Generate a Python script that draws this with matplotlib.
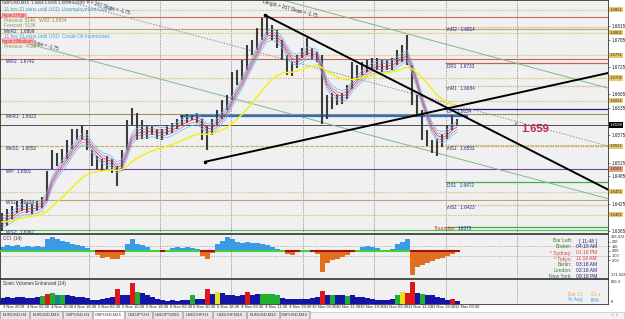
import matplotlib
matplotlib.use('Agg')
import matplotlib.pyplot as plt
import numpy as np
import pandas as pd
from matplotlib.patches import Rectangle

plt.rcParams['font.family'] = ['Liberation Sans', 'DejaVu Sans']

# ---------------- data ----------------
highs = [1.6405, 1.6414, 1.6420, 1.6431, 1.6436, 1.6427, 1.6425, 1.6431, 1.6440, 1.6497,
         1.6542, 1.6537, 1.6546, 1.6564, 1.6590, 1.6590, 1.6597, 1.6586, 1.6542, 1.6530,
         1.6524, 1.6530, 1.6524, 1.6508, 1.6542, 1.6608, 1.6636, 1.6625, 1.6608, 1.6597,
         1.6597, 1.6590, 1.6590, 1.6597, 1.6603, 1.6612, 1.6619, 1.6623, 1.6623, 1.6625,
         1.6612, 1.6597, 1.6612, 1.6630, 1.6652, 1.6663, 1.6714, 1.6718, 1.6740, 1.6773,
         1.6784, 1.6811, 1.6833, 1.6839, 1.6817, 1.6806, 1.6784, 1.6751, 1.6736, 1.6751,
         1.6766, 1.6789, 1.6766, 1.6758, 1.6751, 1.6663, 1.6669, 1.6663, 1.6669, 1.6685,
         1.6736, 1.6729, 1.6736, 1.6740, 1.6744, 1.6744, 1.6740, 1.6740, 1.6744, 1.6762,
         1.6773, 1.6795, 1.6729, 1.6663, 1.6630, 1.6586, 1.6564, 1.6568, 1.6579, 1.6597,
         1.6619, 1.6612]
lows = [1.6365, 1.6376, 1.6391, 1.6405, 1.6409, 1.6405, 1.6402, 1.6409, 1.6416, 1.6431,
        1.6502, 1.6508, 1.6515, 1.6524, 1.6546, 1.6564, 1.6568, 1.6542, 1.6508, 1.6502,
        1.6497, 1.6502, 1.6493, 1.6464, 1.6497, 1.6542, 1.6597, 1.6564, 1.6568, 1.6568,
        1.6575, 1.6568, 1.6564, 1.6575, 1.6581, 1.6590, 1.6597, 1.6603, 1.6608, 1.6603,
        1.6564, 1.6542, 1.6575, 1.6597, 1.6612, 1.6630, 1.6652, 1.6685, 1.6696, 1.6718,
        1.6751, 1.6762, 1.6784, 1.6795, 1.6784, 1.6766, 1.6740, 1.6707, 1.6705, 1.6722,
        1.6744, 1.6751, 1.6740, 1.6736, 1.6601, 1.6612, 1.6634, 1.6641, 1.6645, 1.6656,
        1.6678, 1.6696, 1.6707, 1.6714, 1.6722, 1.6718, 1.6714, 1.6718, 1.6718, 1.6729,
        1.6736, 1.6729, 1.6641, 1.6619, 1.6564, 1.6552, 1.6537, 1.6530, 1.6550, 1.6568,
        1.6586, 1.6597]
cci = [80, 120, 100, 120, 90, 110, 80, 100, 90, 250,
       300, 260, 220, 200, 150, 130, 100, 60, 20, -80,
       -150, -120, -160, -180, -80, 150, 250, 140, 120, 80,
       20, 10, -20, 30, 60, 80, 70, 80, 60, 40,
       -100, -180, -50, 150, 220, 300, 250, 200, 180, 200,
       160, 180, 150, 120, 80, 40, 20, -60, -80, -20,
       10, 20, -20, -60, -440, -250, -200, -160, -120, -80,
       -30, 30, 80, 100, 90, 60, 20, 10, 40, 150,
       200, 250, -520, -350, -300, -260, -220, -180, -140, -100,
       -60, -20]
volume = [210, 240, 200, 230, 260, 220, 200, 250, 280, 350,
          380, 330, 320, 300, 290, 260, 240, 220, 150, 140,
          180, 200, 250, 520, 330, 300, 740, 420, 380, 330,
          260, 180, 140, 120, 130, 110, 140, 150, 330, 180,
          160, 520, 350, 400, 380, 330, 300, 280, 300, 420,
          330, 350, 360, 350, 340, 300, 200, 180, 170, 190,
          180, 160, 200, 250, 460, 330, 300, 320, 300, 280,
          300, 260, 240, 200, 160, 140, 150, 130, 160, 300,
          420, 380, 770, 380, 350, 320, 300, 260, 200, 150,
          180, 120]
# N normal, C climax, H churn, L low, T other
vol_class = "NNNNNNNN" "HCHTH" "NNNNNNNNNN" "CNNCH" "NNNNNNNNNN" "HNNCNL" "NNNNN" "C" \
            "NNHHHH" "NNNNNNNN" "C" "NHNNH" "NNNNNNNNN" "HLCC" "NHNNNNN" "CN"

date_labels = ["3 Nov 2009", "4 Nov 02:30", "4 Nov 10:30", "4 Nov 18:30", "5 Nov 02:30",
               "5 Nov 10:30", "5 Nov 18:30", "6 Nov 02:30", "6 Nov 10:30", "6 Nov 18:30",
               "9 Nov 03:30", "9 Nov 11:30", "9 Nov 19:30", "10 Nov 03:30", "10 Nov 11:30",
               "10 Nov 19:30", "11 Nov 03:30", "11 Nov 11:30", "11 Nov 19:30", "12 Nov 03:30"]
price_ticks = [1.6365, 1.6395, 1.6425, 1.6455, 1.6485, 1.6515, 1.6545, 1.6575, 1.6605,
               1.6635, 1.6665, 1.6695, 1.6725, 1.6755, 1.6785, 1.6815, 1.6845]
mid_levels = [1.6851, 1.6801, 1.6751, 1.6701, 1.6651, 1.6551, 1.6451, 1.6401]
wm_names = ["WR2", "MnR2", "WR1", "MnR1", "MnS1", "WP", "WS1", "WS2"]
wm_prices = [1.6834, 1.6809, 1.6742, 1.6622, 1.6552, 1.6501, 1.6434, 1.6367]
d_names = ["mR2", "DR1", "mR1", "DP", "mS1", "DS1", "mS2", "Thursday"]
d_prices = [1.6814, 1.6733, 1.6684, 1.6634, 1.6553, 1.6472, 1.6423, 1.6373]
current_price = 1.6598
blue_level = 1.6617
trend_down = ([52.6, 121.2], [1.6839, 1.6456])
trend_up = ([40.6, 121.2], [1.6517, 1.6712])
chan_a = ([56.2, 121.2], [1.6872, 1.6679])
chan_b = ([4.6, 121.2], [1.6778, 1.6436])
chan_c = ([12.2, 121.2], [1.6872, 1.6552])

# ---------------- figure ----------------
W, H = 625, 319
fig = plt.figure(figsize=(6.25, 3.19), dpi=100)
fig.patch.set_facecolor('white')

def rect(x0, y0, x1, y1):
    return [x0 / W, 1 - y1 / H, (x1 - x0) / W, (y1 - y0) / H]

def ftext(px, py, s, **kw):
    return fig.text(px / W, 1 - py / H, s, **kw)

n = len(highs)
x = np.arange(n)
XMIN, XMAX = -0.4, 121.2
PMIN, PMAX = 1.63606, 1.68724
BG = '#f0f0f0'
SMALL = 3.3

ax = fig.add_axes(rect(0, 0, 608, 233), facecolor=BG)
cax = fig.add_axes(rect(0, 234, 608, 278), facecolor=BG)
vax = fig.add_axes(rect(0, 279, 608, 304), facecolor=BG)
for a in (ax, cax, vax):
    a.set_xlim(XMIN, XMAX)
    a.set_xticks([])
    for sp in a.spines.values():
        sp.set_linewidth(0.6)
        sp.set_color('#303030')
    a.yaxis.tick_right()
    a.tick_params(axis='y', labelsize=SMALL, length=1.5, width=0.4, pad=1, colors='#202020')
    for k in range(7):
        a.axvline((88.5 + 71.4 * k - 2) / 5, color='#555555', lw=0.5, ls=(0, (1, 1.5)), zorder=1)

# ---- main price panel ----
ax.set_ylim(PMIN, PMAX)
marked = mid_levels + [1.6501, current_price]
shown_ticks = [p for p in price_ticks if min(abs(p - m) for m in marked) > 0.00085]
ax.set_yticks(shown_ticks)
ax.set_yticklabels([f"{p:.4f}" for p in shown_ticks])

for p in mid_levels:
    ax.axhline(p, color='#d2c07a', lw=0.9, ls=(0, (1, 1)), zorder=1)

wm_colors = ['#c87060', '#b8a868', '#c86060', '#a09050', '#c0b070', '#6a4a9a', '#b8a870', '#50c050']
wm_styles = ['-', '-', '-', '-', (0, (3, 1.5)), '-', '-', '-']
for nm, p, c, ls in zip(wm_names, wm_prices, wm_colors, wm_styles):
    ax.axhline(p, color=c, lw=0.8, ls=ls, zorder=1)
day_start = 88.6
d_colors = ['#c0b070', '#c06060', '#c0b070', '#202080', '#c0b070', '#40b040', '#c0b070', '#40b040']
d_styles = [(0, (1, 1)), '-', (0, (1, 1)), '-', (0, (1, 1)), '-', (0, (1, 1)), '-']
for nm, p, c, ls in zip(d_names, d_prices, d_colors, d_styles):
    ax.hlines(p, day_start, XMAX, color=c, lw=0.9, ls=ls, zorder=1)

ax.hlines(blue_level, (180 - 2) / 5, (468 - 2) / 5, color='#2a6cd0', lw=1.6, zorder=3)
ax.axhline(current_price, color='#505050', lw=0.7, zorder=2)

# channel lines
ax.plot(*chan_a, color='#80b890', lw=0.7, zorder=2)
ax.plot(*chan_b, color='#80b890', lw=0.7, zorder=2)
ax.plot(*chan_c, color='#909090', lw=0.7, ls=(0, (1.5, 1.5)), zorder=2)

# candles
ax.vlines(x, lows, highs, color='#3c3c3c', lw=1.5, zorder=4)
mid = (np.array(highs) + np.array(lows)) / 2
s = pd.Series(mid)
slow = s.ewm(span=20, adjust=False).mean()
fast = s.ewm(span=4, adjust=False).mean()
ax.plot(x, fast + 0.0012, color='#70b8f0', lw=0.5, zorder=5)
ax.plot(x, fast - 0.0012, color='#70b8f0', lw=0.5, zorder=5)
ax.plot(x, fast + 0.0006, color='#9878c8', lw=0.5, zorder=5)
ax.plot(x, fast - 0.0006, color='#9878c8', lw=0.5, zorder=5)
ax.plot(x, fast, color='#d04848', lw=0.6, zorder=5)
ax.plot(x, slow, color='#f0f020', lw=1.1, zorder=5)

# trend lines
ax.plot(*trend_down, color='black', lw=1.4, zorder=6)
ax.plot(*trend_up, color='black', lw=1.4, zorder=6)
ax.plot(trend_down[0][0], trend_down[1][0], 'o', color='black', ms=1.5, zorder=6)
ax.plot(trend_up[0][0], trend_up[1][0], 'o', color='black', ms=1.5, zorder=6)

# arrow + projected price
ax.annotate('', xy=(102.8, 1.6612), xytext=(102.8, 1.6594),
            arrowprops=dict(arrowstyle='-|>', color='#a8a8a8', lw=0.6, mutation_scale=4), zorder=6)
ax.text(103.9, 1.6590, '1.659', color='#c02848', fontsize=8, fontweight='bold', va='center', zorder=7)

# pivot labels
ytr = lambda p: (PMAX - p) / (PMAX - PMIN) * 233
navy = '#26267a'
for nm, p in zip(wm_names, wm_prices):
    if nm in ("WR2", "MnR2"):
        continue
    ftext(6, ytr(p) + 2.5, f"{nm}:  {p:.4f}", fontsize=SMALL, color=navy, va='center')
for nm, p in zip(d_names, d_prices):
    if nm == "Thursday":
        ftext(434, ytr(p) + 1.5, nm, fontsize=SMALL + 0.3, color='#d03030', va='center')
        ftext(458, ytr(p) + 1.5, f"{p:.4f}", fontsize=SMALL, color=navy, va='center')
    else:
        ftext(447, ytr(p) + 3, f"{nm}   {p:.4f}", fontsize=SMALL, color=navy, va='center')

# highlighted labels on price scale
for p in mid_levels:
    ax.text(1.003, p, f"{p:.4f}", transform=ax.get_yaxis_transform(), fontsize=SMALL - 0.2,
            va='center', ha='left', color='#303030', zorder=9, clip_on=False,
            bbox=dict(boxstyle='square,pad=0.15', fc='#e8c868', ec='none'))
ax.text(1.003, 1.6501, "1.6501", transform=ax.get_yaxis_transform(), fontsize=SMALL - 0.2,
        va='center', ha='left', color='#303030', clip_on=False,
        bbox=dict(boxstyle='square,pad=0.15', fc='#e0a880', ec='none'))
ax.text(1.003, current_price, f"{current_price:.4f}", transform=ax.get_yaxis_transform(),
        fontsize=SMALL - 0.2, va='center', ha='left', color='white', clip_on=False,
        bbox=dict(boxstyle='square,pad=0.15', fc='black', ec='none'))

# slope texts
ftext(262, 4, "Length = 267 Slope = -1.75", fontsize=SMALL, color='#303030', rotation=-15,
      rotation_mode='anchor', va='bottom')
ftext(86, 4, "e = 267 Slope = -1.75", fontsize=SMALL, color='#303030', rotation=-15,
      rotation_mode='anchor', va='bottom')
ftext(22, 42, "267 Slope = -1.75", fontsize=SMALL, color='#303030', rotation=-15,
      rotation_mode='anchor', va='bottom')

# top-left info
ftext(2, 3, "GBPUSD,M15  1.6604 1.6605 1.6599 1.6599", fontsize=SMALL - 0.3, color='#303030', va='center')
ftext(4, 10, "11 hrs 31 mins until USD: Unemployment Claims", fontsize=SMALL + 0.3, color='#40a8e0', va='center')
ftext(2, 15.5, "Impact:High", fontsize=SMALL, color='#e03030', va='center',
      bbox=dict(boxstyle='square,pad=0.1', fc='#f4b8b8', ec='none'))
ftext(4, 20.5, "Previous: 514K   WR2: 1.6834", fontsize=SMALL, color='#909040', va='center')
ftext(4, 25.5, "Forecast: 513K", fontsize=SMALL, color='#909040', va='center')
ftext(4, 31.5, "MnR2:  1.6809", fontsize=SMALL, color=navy, va='center')
ftext(4, 36, "11 hrs 31 mins until USD: Crude Oil Inventories", fontsize=SMALL + 0.3, color='#40a8e0', va='center')
ftext(2, 41, "Impact:Medium", fontsize=SMALL, color='#e03030', va='center',
      bbox=dict(boxstyle='square,pad=0.1', fc='#f4b8b8', ec='none'))
ftext(4, 46, "Previous: -4.0M", fontsize=SMALL, color='#909040', va='center')

# ---- CCI panel ----
cax.set_ylim(-575, 362)
cc = np.array(cci)
cax.bar(x, cc, width=1.0, color=np.where(cc >= 0, '#3a9ae8', '#e07020'), linewidth=0, zorder=2)
cax.hlines(np.zeros(n), x - 0.5, x + 0.5, colors=np.where(cc >= 0, '#40d040', '#a01010'), lw=1.5, zorder=3)
for lv in (100, -100):
    cax.axhline(lv, color='#888888', lw=0.5, ls=(0, (1, 1.5)), zorder=1)
cax.set_yticks([200, 100, 0, -100, -200])
cax.set_yticklabels(['200', '100', '0.00', '-100', '-200'])
cax.tick_params(axis='y', labelsize=SMALL - 0.6)
ftext(611, 236.5, "366.472", fontsize=SMALL - 0.5, color='#202020', va='center')
ftext(611, 275, "-371.022", fontsize=SMALL - 0.5, color='#202020', va='center')
ftext(3, 238.5, "CCI  (14)", fontsize=SMALL, color='#303030', va='center')
info = [("Bar Left:", "[ 11:48 ]", '#3a7a3a', navy), ("Broker:", "04:18 AM", '#3a7a3a', navy),
        ("* Sydney:", "01:18 PM", '#e04040', '#e04040'), ("* Tokyo:", "11:18 AM", '#e04040', '#e04040'),
        ("Berlin:", "03:18 AM", '#3a7a3a', navy), ("London:", "02:18 AM", '#3a7a3a', navy),
        ("New York:", "09:18 PM", '#3a7a3a', navy)]
for k, (lab, val, c1, c2) in enumerate(info):
    yy = 241 + 6 * k
    ftext(572, yy, lab, fontsize=SMALL + 0.3, color=c1, ha='right', va='center')
    ftext(597, yy, val, fontsize=SMALL + 0.3, color=c2, ha='right', va='center')

# ---- volume panel ----
vax.set_ylim(0, 869.4)
vax.set_yticks([])
cmap = {'N': '#1414a8', 'C': '#e01818', 'H': '#20b030', 'L': '#e8e020', 'T': '#108888'}
vax.bar(x, volume, width=1.0, color=[cmap[c] for c in vol_class], linewidth=0, zorder=2)
ftext(611, 282, "869.4", fontsize=SMALL - 0.5, color='#202020', va='center')
ftext(611, 302, "0", fontsize=SMALL - 0.5, color='#202020', va='center')
ftext(3, 284, "Sonic Volumes Enhanced (14)", fontsize=SMALL, color='#303030', va='center')
ftext(568, 294, "Bar Ct:", fontsize=SMALL + 0.3, color='#e8b040', va='center')
ftext(600, 294, "21 v", fontsize=SMALL + 0.3, color='#e8b040', va='center', ha='right')
ftext(568, 300, "% Avg:", fontsize=SMALL + 0.3, color='#40a8e0', va='center')
ftext(600, 300, "19%", fontsize=SMALL + 0.3, color='#40a8e0', va='center', ha='right')

# date labels
for k, lab in enumerate(date_labels):
    px = 2 + 23.8 * k
    ftext(px + 1, 307.5, lab, fontsize=SMALL - 0.3, color='#202020', va='center')

# tabs / scrollbar
fig.add_artist(Rectangle((0, 0), 310 / W, 8 / H, transform=fig.transFigure,
                         facecolor='#e6e6e6', edgecolor='#a0a0a0', lw=0.4))
tabs = ["EURUSD,H4", "EURUSD,M15", "GBPUSD,H1", "GBPUSD,M15", "USDJPY,H1", "USDJPY,M15",
        "USDCHF,H1", "USDCHF,M15", "EURUSD,M15", "GBPUSD,M15"]
starts = [0, 30, 63, 93, 125, 153, 183, 213, 247, 280, 310]
for k, t in enumerate(tabs):
    x0, x1 = starts[k], starts[k + 1] - 1
    fc = 'white' if k == 3 else '#e6e6e6'
    fig.add_artist(Rectangle((x0 / W, 0), (x1 - x0) / W, 8 / H, transform=fig.transFigure,
                             facecolor=fc, edgecolor='#909090', lw=0.4))
    ftext((x0 + x1) / 2, 315, t, fontsize=SMALL - 0.3, color='#303030', ha='center', va='center')
fig.add_artist(Rectangle((310 / W, 0.5 / H), 314 / W, 7 / H, transform=fig.transFigure,
                         facecolor='#f4f4f4', edgecolor='#b0b0b0', lw=0.4))
ftext(612, 315, "\u2039  \u203a", fontsize=SMALL, color='#606060', va='center')

fig.savefig('out.png', dpi=100, facecolor='white')
